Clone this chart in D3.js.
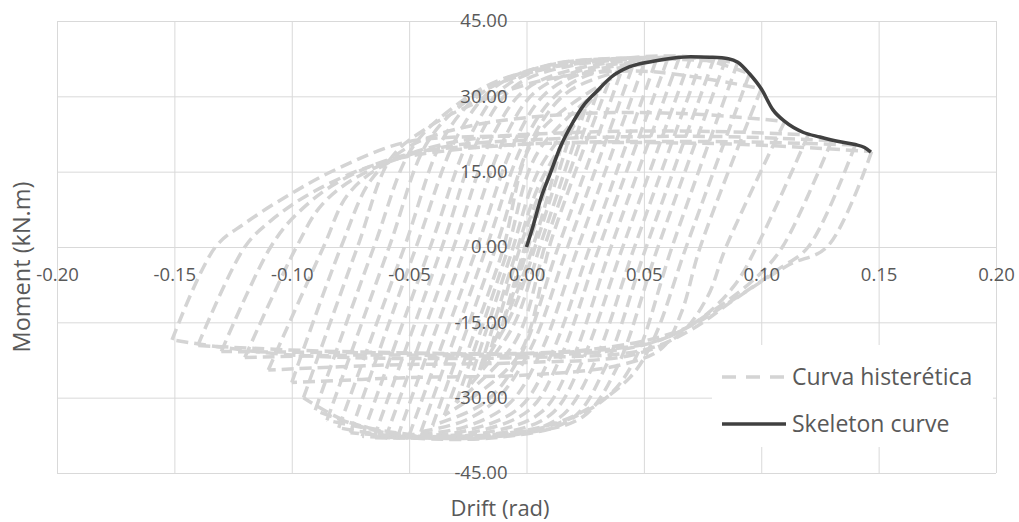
<!DOCTYPE html>
<html>
<head>
<meta charset="utf-8">
<script src="https://cdn.jsdelivr.net/npm/d3@7"></script>
<style>
  body { margin: 0; background: #fff; }
  text { font-family: "Open Sans", sans-serif; }
</style>
</head>
<body>
<svg></svg>
<script>
// axis ticks
var xTicks = [-0.20, -0.15, -0.10, -0.05, 0, 0.05, 0.10, 0.15, 0.20];
var yTicks = [-45, -30, -15, 0, 15, 30, 45];

// skeleton curve [drift, moment]
var skeleton = [
  [0, 0], [0.003, 4.5], [0.006, 9.5], [0.010, 14.5], [0.0145, 20], [0.020, 25],
  [0.024, 28], [0.030, 31], [0.036, 33.8], [0.044, 35.9], [0.054, 37], [0.062, 37.6],
  [0.070, 37.9], [0.078, 37.8], [0.086, 37.5], [0.090, 36.8], [0.095, 34.5], [0.100, 31.5],
  [0.105, 27.3], [0.110, 25], [0.118, 22.8], [0.125, 21.9], [0.133, 21], [0.140, 20.4],
  [0.144, 19.8], [0.1467, 18.9]
];

// hysteresis branches (unloading / reloading), [drift, moment]
var hystBranches = [
  [[0, 0], [0.005, 8]],
  [[0.005, 8], [0, 0], [-0.005, -8]],
  [[-0.005, -8], [0, 0], [0.01, 15]],
  [[0.01, 15], [0.002, 2], [-0.004, -7], [-0.01, -15]],
  [[-0.01, -15], [-0.002, -2], [0.004, 7], [0.015, 20.5]],
  [[0.015, 20.5], [0.004, 2], [-0.005, -10], [-0.015, -20]],
  [[-0.015, -20], [-0.004, -2], [0.005, 10], [0.02, 24.5]],
  [[0.02, 24.5], [0.005, 2], [-0.006, -13], [-0.02, -24.5]],
  [[-0.02, -24.5], [-0.005, -2], [0.006, 13], [0.025, 27.5]],
  [[0.025, 27.5], [0.007, 2], [-0.006, -16], [-0.025, -28]],
  [[-0.025, -28], [-0.007, -2], [0.006, 16], [0.03, 30.5]],
  [[0.03, 30.5], [0.009, 2], [-0.005, -19], [-0.03, -31]],
  [[-0.03, -31], [-0.009, -2], [0.005, 19], [0.035, 32.8]],
  [[0.035, 32.8], [0.011, 2], [-0.004, -22], [-0.035, -33.5]],
  [[-0.035, -33.5], [-0.011, -2], [0.004, 22], [0.04, 34.5]],
  [[0.04, 34.5], [0.0135, 0], [-0.003, -22], [-0.018, -31], [-0.04, -35.5]],
  [[-0.04, -35.5], [-0.013, 0], [0.003, 22], [0.018, 31], [0.045, 35.7]],
  [[0.045, 35.7], [0.0175, 0], [0.002, -20], [-0.012, -30], [-0.026, -34.5], [-0.045, -36.8]],
  [[-0.045, -36.8], [-0.017, 0], [-0.002, 20], [0.011, 29.5], [0.025, 34], [0.05, 36.4]],
  [[0.05, 36.4], [0.022, 0], [0.006, -21], [-0.007, -31], [-0.026, -35.8], [-0.05, -37.5]],
  [[-0.05, -37.5], [-0.021, 0], [-0.005, 21], [0.008, 30.5], [0.025, 34.8], [0.055, 36.9]],
  [[0.055, 36.9], [0.027, 0], [0.01, -22], [-0.003, -32], [-0.025, -36.5], [-0.055, -37.9]],
  [[-0.055, -37.9], [-0.026, 0], [-0.009, 22], [0.004, 31], [0.025, 35.4], [0.06, 37.3]],
  [[0.06, 37.3], [0.031, 0], [0.014, -22.5], [0.001, -32.5], [-0.024, -37], [-0.06, -38]],
  [[-0.06, -38], [-0.031, 0], [-0.014, 22.5], [0, 31.5], [0.025, 35.9], [0.065, 37.6]],
  [[0.065, 37.6], [0.036, 0], [0.019, -23], [0.006, -33], [-0.02, -37.2], [-0.065, -38]],
  [[-0.065, -38], [-0.036, 0], [-0.019, 23], [-0.005, 32], [0.02, 36.2], [0.07, 37.8]],
  [[0.07, 37.8], [0.041, 0], [0.023, -23.5], [0.01, -33.5], [-0.017, -37.5], [-0.07, -37.7]],
  [[-0.07, -37.7], [-0.041, 0], [-0.023, 23], [-0.009, 32], [0.017, 36.5], [0.075, 37.8]],
  [[0.075, 37.8], [0.046, 0], [0.028, -24], [0.014, -34], [-0.014, -37.8], [-0.075, -37]],
  [[-0.075, -37], [-0.047, 0], [-0.029, 22.5], [-0.013, 32], [0.014, 36.6], [0.08, 37.7]],
  [[0.08, 37.7], [0.051, 0], [0.033, -24.5], [0.019, -34.3], [-0.01, -37.8], [-0.05, -38], [-0.08, -36]],
  [[-0.08, -36], [-0.052, 0], [-0.035, 22], [-0.018, 31], [0.01, 36.3], [0.045, 37.6], [0.085, 37.5]],
  [[0.085, 37.5], [0.056, 0], [0.038, -24.5], [0.024, -33.8], [0, -37], [-0.04, -38], [-0.085, -34.5]],
  [[-0.085, -34.5], [-0.0585, 0], [-0.042, 21], [-0.024, 29.5], [0.002, 34.8], [0.04, 37.4], [0.09, 36.8]],
  [[0.09, 36.8], [0.062, 0], [0.046, -22.5], [0.034, -30], [0.014, -35], [-0.02, -37.8], [-0.06, -37], [-0.09, -32.5]],
  [[-0.09, -32.5], [-0.065, 0], [-0.049, 19.5], [-0.032, 27.5], [-0.01, 33.5], [0.03, 37], [0.07, 37.8], [0.095, 34.5]],
  [[0.095, 34.5], [0.068, 0], [0.054, -18.5], [0.044, -26], [0.023, -33], [0, -36.5], [-0.04, -37.6], [-0.075, -35], [-0.095, -30]],
  [[-0.095, -30], [-0.072, 0], [-0.058, 17.5], [-0.043, 23.5], [-0.02, 29], [0.01, 33.5], [0.05, 35], [0.1, 31.5]],
  [[0.1, 31.5], [0.074, 0], [0.066, -13], [0.058, -20], [0.04, -23.5], [0, -25.5], [-0.05, -26], [-0.1, -27]],
  [[-0.1, -27], [-0.079, 0], [-0.066, 13.5], [-0.05, 20], [-0.025, 24], [0.02, 26.5], [0.07, 26.5], [0.11, 25]],
  [[0.11, 25], [0.085, 0], [0.077, -10], [0.065, -17.5], [0.045, -21.5], [0, -23], [-0.06, -23.5], [-0.11, -24.5]],
  [[-0.11, -24.5], [-0.0865, 0], [-0.076, 10.5], [-0.06, 16.5], [-0.03, 21], [0.02, 22.8], [0.08, 23], [0.12, 22.3]],
  [[0.12, 22.3], [0.098, 0], [0.088, -8], [0.072, -15], [0.05, -19.5], [0.01, -21.5], [-0.07, -21.5], [-0.12, -22]],
  [[-0.12, -22], [-0.098, 0], [-0.087, 8.5], [-0.07, 14.5], [-0.04, 19.5], [0.01, 21.5], [0.08, 22], [0.13, 21.2]],
  [[0.13, 21.2], [0.109, 0], [0.098, -6], [0.08, -12.5], [0.057, -18.5], [0.015, -21], [-0.08, -21], [-0.13, -20.8]],
  [[-0.13, -20.8], [-0.109, 0], [-0.098, 6.5], [-0.08, 13], [-0.05, 18.5], [0, 20.5], [0.08, 21], [0.14, 20.3]],
  [[0.14, 20.3], [0.12, 0], [0.107, -4.5], [0.088, -10.5], [0.066, -16.5], [0.025, -20.5], [-0.08, -20.8], [-0.14, -19.6]],
  [[-0.14, -19.6], [-0.12, 0], [-0.109, 5.2], [-0.09, 11.2], [-0.06, 17], [-0.01, 20.2], [0.08, 20.6], [0.147, 19]],
  [[0.147, 19], [0.128, 0], [0.112, -3.5], [0.09, -10], [0.07, -16.5], [0.05, -20.5], [0, -22], [-0.1, -21.5], [-0.151, -18.5]],
  [[-0.151, -18.5], [-0.1325, 0], [-0.12, 4.7], [-0.1, 10.7], [-0.08, 15.7], [-0.05, 21], [0, 22]]
];

var seriesNames = ["Curva histerética", "Skeleton curve"];

var width = 1019, height = 522;
var svg = d3.select("svg").attr("width", width).attr("height", height);

var x = d3.scaleLinear().domain([-0.2, 0.2]).range([57, 996]);
var y = d3.scaleLinear().domain([-45, 45]).range([473, 21]);

var gridColor = "#d9d9d9", textColor = "#595959", hystColor = "#d4d4d4";

// gridlines
svg.append("g")
  .attr("transform", "translate(0," + y(-45) + ")")
  .call(d3.axisBottom(x).tickValues(xTicks).tickSize(-(y(-45) - y(45))).tickFormat(""))
  .call(g => g.select(".domain").remove())
  .call(g => g.selectAll("line").attr("stroke", gridColor));

svg.append("g")
  .attr("transform", "translate(" + x(-0.2) + ",0)")
  .call(d3.axisLeft(y).tickValues(yTicks).tickSize(-(x(0.2) - x(-0.2))).tickFormat(""))
  .call(g => g.select(".domain").remove())
  .call(g => g.selectAll("line").attr("stroke", gridColor));

// series
var line = d3.line()
  .x(d => x(d[0]))
  .y(d => y(d[1]))
  .curve(d3.curveCatmullRom.alpha(0.5));

svg.append("g").selectAll("path")
  .data(hystBranches)
  .enter().append("path")
  .attr("d", line)
  .attr("fill", "none")
  .attr("stroke", hystColor)
  .attr("stroke-width", 3.5)
  .attr("stroke-dasharray", "12,6");

svg.append("path")
  .datum(skeleton)
  .attr("d", line.curve(d3.curveMonotoneX))
  .attr("fill", "none")
  .attr("stroke", "#404040")
  .attr("stroke-width", 3.5);

// tick labels on the zero axes
svg.append("g")
  .attr("transform", "translate(0," + y(0) + ")")
  .attr("color", textColor)
  .call(d3.axisBottom(x).tickValues(xTicks).tickSize(0).tickPadding(21).tickFormat(d => d.toFixed(2)))
  .call(g => g.select(".domain").remove())
  .attr("font-family", "Open Sans").attr("font-size", 18.5);

svg.append("g")
  .attr("transform", "translate(" + x(0) + ",0)")
  .attr("color", textColor)
  .call(d3.axisLeft(y).tickValues(yTicks).tickSize(0).tickPadding(19).tickFormat(d => d.toFixed(2)))
  .call(g => g.select(".domain").remove())
  .attr("font-family", "Open Sans").attr("font-size", 18.5);

// axis titles
svg.append("text")
  .attr("x", 500).attr("y", 508)
  .attr("text-anchor", "middle").attr("dy", "0.35em")
  .attr("font-size", 22).attr("fill", textColor)
  .text("Drift (rad)");

svg.append("text")
  .attr("transform", "translate(22,267) rotate(-90)")
  .attr("text-anchor", "middle").attr("dy", "0.35em")
  .attr("font-size", 23.5).attr("fill", textColor)
  .text("Moment (kN.m)");

// legend
var legend = svg.append("g");
legend.append("rect")
  .attr("x", 712).attr("y", 345).attr("width", 281).attr("height", 102)
  .attr("fill", "#fff");

var legendY = [377, 424];
legend.append("line")
  .attr("x1", 722).attr("x2", 787).attr("y1", legendY[0]).attr("y2", legendY[0])
  .attr("stroke", hystColor).attr("stroke-width", 3.5).attr("stroke-dasharray", "14,10");
legend.append("line")
  .attr("x1", 722).attr("x2", 786).attr("y1", legendY[1]).attr("y2", legendY[1])
  .attr("stroke", "#404040").attr("stroke-width", 3.5);

legend.selectAll("text.leg")
  .data(seriesNames)
  .enter().append("text")
  .attr("class", "leg")
  .attr("x", 792)
  .attr("y", (d, i) => legendY[i])
  .attr("dy", "0.35em")
  .attr("font-size", 23)
  .attr("fill", textColor)
  .text(d => d);
</script>
</body>
</html>
